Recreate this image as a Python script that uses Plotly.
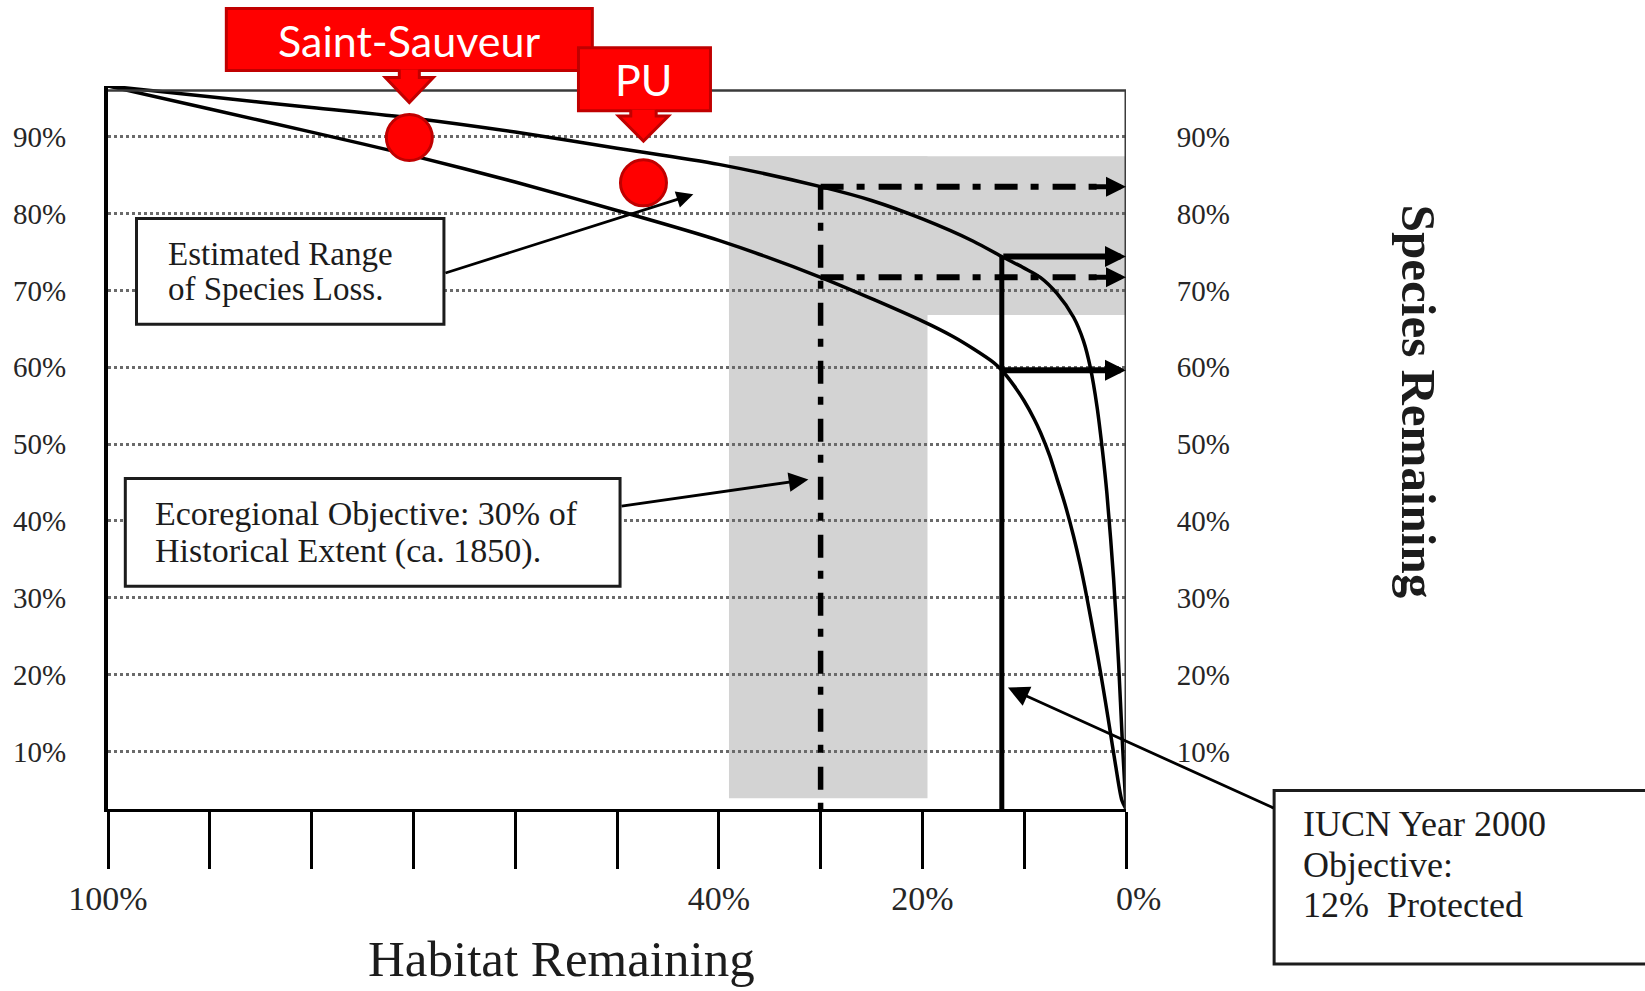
import numpy as np
import plotly.graph_objects as go

# ---------------- data ----------------
habitat_upper = [100, 90, 80, 70, 60, 50, 40, 30, 25, 20, 15, 12.2, 10, 8.42, 6.78, 5.15, 4.17, 3.51, 2.85, 2.3, 1.87, 1.22, 0.73, 0.35, 0]
species_upper = [96.6, 95.2, 93.8, 92.4, 90.6, 88.5, 86.4, 83.5, 81.7, 79.3, 76.4, 74.4, 72.9, 71.7, 69.6, 66.5, 63.4, 60.0, 54.9, 49.0, 43.5, 32.5, 21.5, 11.0, 2.5]

habitat_lower = [100, 90, 80, 70, 60, 50, 40, 30, 20, 17, 15, 13, 12.2, 11, 10, 9, 8.4, 7.5, 6.78, 6, 5.15, 4.5, 3.84, 3, 2.53, 2, 1.54, 1, 0.4, 0]
species_lower = [96.6, 93.6, 90.6, 87.5, 84.1, 80.4, 76.5, 71.7, 66.0, 64.0, 62.4, 60.6, 59.6, 57.6, 55.6, 53.2, 51.5, 48.5, 45.5, 42.2, 38.0, 34.3, 30.0, 24.0, 20.5, 16.3, 12.5, 8.0, 3.6, 2.5]

site_names = ["Saint-Sauveur", "PU"]
site_habitat = [70.4, 47.4]
site_species = [89.9, 84.0]

x_tick_vals = [100, 90, 80, 70, 60, 50, 40, 30, 20, 10, 0]
x_tick_text = ["100%", "", "", "", "", "", "40%", "", "20%", "", "\u00a0\u00a0\u00a00%"]
y_tick_vals = [10, 20, 30, 40, 50, 60, 70, 80, 90]
y_tick_text = ["10%", "20%", "30%", "40%", "50%", "60%", "70%", "80%", "90%"]

ecoregional_objective = 30.0
iucn_objective = 12.2

loss_band_habitat = [39.0, 19.5]
loss_band_species = [3.9, 87.45]
range_band_habitat = [39.0, 0.0]
range_band_species = [66.8, 87.45]

y_min, y_max = 2.5, 96.6
x_left, x_right = 100.0, 0.0
frame_top = 96.0

est_box_habitat = [97.2, 67.0]
est_box_species = [79.35, 65.6]
eco_box_habitat = [98.3, 49.7]
eco_box_species = [45.5, 31.5]


def curve_at(h, hs, ss):
    return float(np.interp(h, hs[::-1], ss[::-1]))


def to_paper_x(h):
    return (h - x_left) / (x_right - x_left)


def to_paper_y(s):
    return (s - y_min) / (y_max - y_min)


u30 = curve_at(ecoregional_objective, habitat_upper, species_upper)
l30 = curve_at(ecoregional_objective, habitat_lower, species_lower)
u12 = curve_at(iucn_objective, habitat_upper, species_upper)
l12 = curve_at(iucn_objective, habitat_lower, species_lower)

SERIF = "Liberation Serif, Times New Roman, serif"
INK = "#1c1c1c"
RED = "#ff0000"
DARKRED = "#c00000"
GREY = "#d3d3d3"
DASHDOT = "23px,13px,8px,14px"

fig = go.Figure()

# curves
for hs, ss in ((habitat_upper, species_upper), (habitat_lower, species_lower)):
    fig.add_trace(go.Scatter(x=hs, y=ss, mode="lines",
                             line=dict(color="black", width=3.5, shape="spline", smoothing=0.8),
                             hoverinfo="skip", showlegend=False))

# ecoregional objective dash-dot lines
fig.add_trace(go.Scatter(x=[ecoregional_objective, ecoregional_objective], y=[u30, y_min], mode="lines",
                         line=dict(color="black", width=5.5, dash=DASHDOT), hoverinfo="skip", showlegend=False))
for yv in (u30, l30):
    fig.add_trace(go.Scatter(x=[ecoregional_objective, 1.5], y=[yv, yv], mode="lines",
                             line=dict(color="black", width=6, dash=DASHDOT), hoverinfo="skip", showlegend=False))

# IUCN objective solid line
fig.add_trace(go.Scatter(x=[iucn_objective, iucn_objective], y=[y_min, u12], mode="lines",
                         line=dict(color="black", width=5), hoverinfo="skip", showlegend=False))

# sites
fig.add_trace(go.Scatter(x=site_habitat, y=site_species, mode="markers",
                         marker=dict(size=46, color=RED, line=dict(color=DARKRED, width=3)),
                         hoverinfo="skip", showlegend=False))

# right axis anchor
fig.add_trace(go.Scatter(x=[50], y=[50], yaxis="y2", mode="markers", marker=dict(opacity=0),
                         hoverinfo="skip", showlegend=False))

shapes = []
# grey bands
shapes.append(dict(type="rect", xref="x", yref="y", x0=loss_band_habitat[0], x1=loss_band_habitat[1],
                   y0=loss_band_species[0], y1=loss_band_species[1], fillcolor=GREY, line=dict(width=0), layer="below"))
shapes.append(dict(type="rect", xref="x", yref="y", x0=range_band_habitat[0], x1=range_band_habitat[1],
                   y0=range_band_species[0], y1=range_band_species[1], fillcolor=GREY, line=dict(width=0), layer="below"))
# frame (top and right)
shapes.append(dict(type="line", xref="x", yref="y", x0=100, x1=0, y0=frame_top, y1=frame_top,
                   line=dict(color="#3a3a3a", width=2.5), layer="above"))
shapes.append(dict(type="line", xref="x", yref="y", x0=0, x1=0, y0=y_min, y1=frame_top,
                   line=dict(color="#3c3c3c", width=3), layer="above"))
# text boxes
shapes.append(dict(type="rect", xref="x", yref="y", x0=est_box_habitat[0], x1=est_box_habitat[1],
                   y0=est_box_species[0], y1=est_box_species[1], fillcolor="white",
                   line=dict(color=INK, width=3), layer="above"))
shapes.append(dict(type="rect", xref="x", yref="y", x0=eco_box_habitat[0], x1=eco_box_habitat[1],
                   y0=eco_box_species[0], y1=eco_box_species[1], fillcolor="white",
                   line=dict(color=INK, width=3), layer="above"))
shapes.append(dict(type="rect", xref="paper", yref="paper", x0=1.1455, x1=1.53, y0=0.0255, y1=-0.2144,
                   fillcolor="white", line=dict(color=INK, width=3), layer="above"))

# red callouts, sized in pixels around each site marker (anchored in paper units so they are not clipped)
callouts = [
    dict(box=(-183, 183, 67, 129), shaft=10, head=24, base=60, tip=35, text_shift=97),
    dict(box=(-65, 67, 72, 135), shaft=12.7, head=25, base=66.7, tip=41.7, text_shift=103.5),
]
for hx, sy, c in zip(site_habitat, site_species, callouts):
    px, py = to_paper_x(hx), to_paper_y(sy)
    bx0, bx1, by0, by1 = c["box"]
    shapes.append(dict(type="rect", xref="paper", yref="paper", xsizemode="pixel", ysizemode="pixel",
                       xanchor=px, yanchor=py, x0=bx0, x1=bx1, y0=by0, y1=by1,
                       fillcolor=RED, line=dict(color=DARKRED, width=3), layer="above"))
    s, h, b, t = c["shaft"], c["head"], c["base"], c["tip"]
    path = f"M{-s},{by0 + 1} L{-s},{b} L{-h},{b} L0,{t} L{h},{b} L{s},{b} L{s},{by0 + 1}"
    shapes.append(dict(type="path", xref="paper", yref="paper", xsizemode="pixel", ysizemode="pixel",
                       xanchor=px, yanchor=py, path=path,
                       fillcolor=RED, line=dict(color=DARKRED, width=3), layer="above"))

annotations = []
for hx, sy, name, c in zip(site_habitat, site_species, site_names, callouts):
    annotations.append(dict(x=hx, y=sy, xref="x", yref="y", text=name, showarrow=False,
                            yshift=c["text_shift"], font=dict(family="Lato, Open Sans, sans-serif", size=43, color="white")))

# arrow heads at the right frame
for yv in (u30, l30):
    annotations.append(dict(x=0, y=yv, ax=3.2, ay=yv, xref="x", yref="y", axref="x", ayref="y", text="",
                            showarrow=True, arrowhead=2, arrowwidth=5, arrowsize=0.8, arrowcolor="black"))
for yv in (u12, l12):
    annotations.append(dict(x=0, y=yv, ax=iucn_objective, ay=yv, xref="x", yref="y", axref="x", ayref="y", text="",
                            showarrow=True, arrowhead=2, arrowwidth=6, arrowsize=0.7, arrowcolor="black"))

# pointer arrows
annotations.append(dict(x=42.5, y=82.5, ax=est_box_habitat[1], ay=72.2, xref="x", yref="y", axref="x", ayref="y",
                        text="", showarrow=True, arrowhead=2, arrowwidth=2.8, arrowsize=1.2, arrowcolor="black"))
annotations.append(dict(x=31.2, y=45.4, ax=eco_box_habitat[1], ay=41.9, xref="x", yref="y", axref="x", ayref="y",
                        text="", showarrow=True, arrowhead=2, arrowwidth=2.8, arrowsize=1.4, arrowcolor="black"))
annotations.append(dict(x=11.6, y=18.3, ax=267, ay=121, xref="x", yref="y",
                        text="", showarrow=True, arrowhead=2, arrowwidth=2.8, arrowsize=1.5, arrowcolor="black"))

# box texts
for txt, yv in (("Estimated Range", 74.8), ("of Species Loss.", 70.2)):
    annotations.append(dict(x=94.3, y=yv, xref="x", yref="y", text=txt, showarrow=False,
                            xanchor="left", yanchor="middle", font=dict(family=SERIF, size=33, color=INK)))
for txt, yv in (("Ecoregional Objective: 30% of", 41.0), ("Historical Extent (ca. 1850).", 36.05)):
    annotations.append(dict(x=95.6, y=yv, xref="x", yref="y", text=txt, showarrow=False,
                            xanchor="left", yanchor="middle", font=dict(family=SERIF, size=34, color=INK)))
for txt, yp in (("IUCN Year 2000", -0.0214), ("Objective:", -0.0775), ("12%  Protected", -0.1328)):
    annotations.append(dict(x=1.1715, y=yp, xref="paper", yref="paper", text=txt, showarrow=False,
                            xanchor="left", yanchor="middle", font=dict(family=SERIF, size=36, color=INK)))

# axis titles
annotations.append(dict(x=0.445, y=-0.207, xref="paper", yref="paper", text="Habitat Remaining", showarrow=False,
                        xanchor="center", yanchor="middle", font=dict(family=SERIF, size=51, color=INK)))
annotations.append(dict(x=1.287, y=0.563, xref="paper", yref="paper", text="<b>Species Remaining</b>", showarrow=False,
                        textangle=90, xanchor="center", yanchor="middle", font=dict(family=SERIF, size=49, color=INK)))

tick_font = dict(family=SERIF, size=29, color="#262626")

fig.update_layout(
    width=1645, height=991,
    margin=dict(l=108, r=519, t=86, b=182, pad=0),
    paper_bgcolor="white", plot_bgcolor="white",
    showlegend=False,
    shapes=shapes, annotations=annotations,
    xaxis=dict(range=[x_left, x_right], tickmode="array", tickvals=x_tick_vals, ticktext=x_tick_text,
               showgrid=False, zeroline=False, showline=True, linecolor="black", linewidth=3,
               ticks="outside", ticklen=57, tickwidth=3, tickcolor="black", automargin=False,
               tickfont=dict(family=SERIF, size=34, color="#262626"), ticklabelstandoff=0, fixedrange=True),
    yaxis=dict(range=[y_min, y_max], tickmode="array", tickvals=y_tick_vals, ticktext=y_tick_text,
               showgrid=True, gridcolor="#6a6a6a", gridwidth=2.5, griddash="dot", automargin=False,
               zeroline=False, showline=True, linecolor="black", linewidth=4,
               ticks="outside", ticklen=32, tickcolor="rgba(0,0,0,0)", tickfont=tick_font, fixedrange=True),
    yaxis2=dict(range=[y_min, y_max], overlaying="y", side="right", tickmode="array", automargin=False,
                tickvals=y_tick_vals, ticktext=y_tick_text, showgrid=False, zeroline=False, showline=False,
                ticks="outside", ticklen=44, tickcolor="rgba(0,0,0,0)", tickfont=tick_font, fixedrange=True),
)

fig.write_html("out.html", config={"displayModeBar": False},
               post_script="document.body.style.margin='0';document.body.style.overflow='hidden';")
